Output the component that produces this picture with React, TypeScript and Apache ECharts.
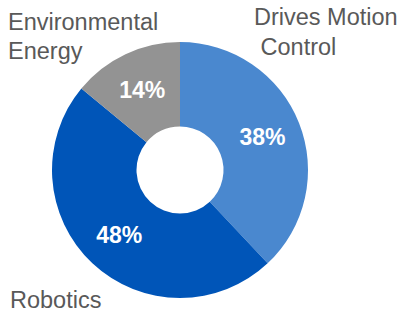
import React, { useEffect, useRef } from "react";
import * as echarts from "echarts";

const categories = ["Drives Motion Control", "Robotics", "Environmental Energy"];
const shares = [38, 48, 14];
const sliceColors = ["#4A88CF", "#0055B8", "#939393"];
const displayNames = ["Drives Motion\n Control", "Robotics", "Environmental\nEnergy"];
const namePositions: [number, number][] = [
  [254, 2],
  [10, 289],
  [8, 7],
];
const nameLineHeights = [30, 22, 29];

const FONT = "'Liberation Sans', Arial, sans-serif";

export default function App() {
  const ref = useRef<HTMLDivElement>(null);
  useEffect(() => {
    document.body.style.margin = "0";
    const chart = echarts.init(ref.current!, null, { renderer: "svg" });
    chart.setOption({
      animation: false,
      backgroundColor: "#ffffff",
      series: [
        {
          type: "pie",
          center: [180, 170],
          radius: [43.5, 128],
          startAngle: 90,
          clockwise: true,
          avoidLabelOverlap: false,
          itemStyle: { borderWidth: 0 },
          label: {
            show: true,
            position: "inside",
            formatter: "{c}%",
            color: "#ffffff",
            fontSize: 23,
            fontWeight: "bold",
            fontFamily: FONT,
          },
          labelLine: { show: false },
          emphasis: { disabled: true },
          data: categories.map((name, i) => ({
            name,
            value: shares[i],
            itemStyle: { color: sliceColors[i] },
          })),
        },
      ],
      graphic: displayNames.map((t, i) => ({
        type: "text",
        x: namePositions[i][0],
        y: namePositions[i][1],
        style: {
          text: t,
          fill: "#595959",
          fontSize: 23.5,
          lineHeight: nameLineHeights[i],
          fontFamily: FONT,
          verticalAlign: "top",
          align: "left",
        },
      })),
    });
    return () => chart.dispose();
  }, []);
  return <div ref={ref} style={{ width: 403, height: 312 }} />;
}
